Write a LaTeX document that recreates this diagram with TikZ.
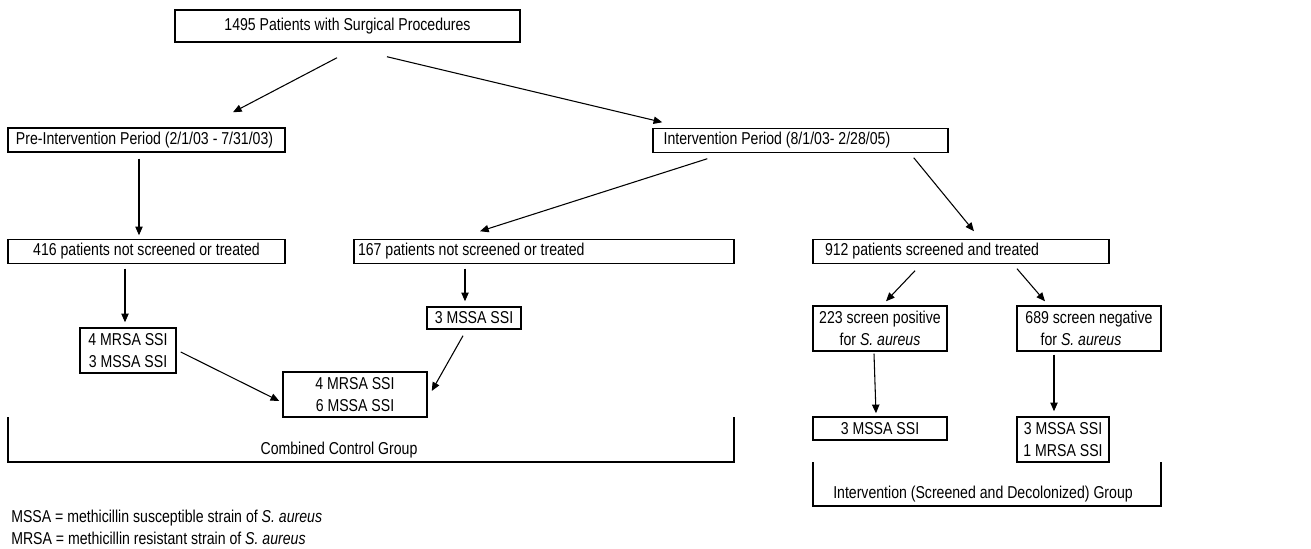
\documentclass[tikz,border=0pt]{standalone}
\usepackage{fontspec}
\setmainfont[FakeStretch=0.82]{Liberation Sans}
\usetikzlibrary{positioning, arrows.meta, calc}

\newcommand{\lefttext}[2]{\makebox[#1][l]{#2}}

\tikzset{
    box/.style={draw, line width=1.1pt, inner sep=0pt, minimum height=18pt, align=center},
    twobox/.style={box, minimum height=33.75pt},
    arr/.style={-{Triangle[length=6.5pt,width=5.5pt]}, line width=0.8pt},
    bracket/.style={line width=1.1pt}
}

\begin{document}
\begin{tikzpicture}[x=0.75pt, y=-0.75pt, font=\fontsize{12.9}{16.3}\selectfont]
    \useasboundingbox (0,0) rectangle (1311,549);

    % top level
    \node[box, minimum width=258.75pt, minimum height=24pt] (top) at (347.5,26) {1495 Patients with Surgical Procedures};

    % periods
    \node[box, minimum width=207.75pt] (pre) at (146.5,140) {\lefttext{195.75pt}{Pre-Intervention Period (2/1/03 - 7/31/03)}};
    \node[box, minimum width=221.25pt] (interv) at (800.5,140.5) {\lefttext{205.25pt}{Intervention Period (8/1/03- 2/28/05)}};

    % patients
    \node[box, minimum width=207.75pt] (n416) at (146.5,251.5) {416 patients not screened or treated};
    \node[box, minimum width=285pt] (n167) at (544,251.5) {\lefttext{279pt}{167 patients not screened or treated}};
    \node[box, minimum width=222pt] (n912) at (961,251.5) {\lefttext{204pt}{912 patients screened and treated}};

    % infections, control
    \node[box, minimum width=70.5pt, minimum height=16.5pt] (ssi167) at (474,318) {3 MSSA SSI};
    \node[twobox, minimum width=72pt] (ssi416) at (128,350.5) {4 MRSA SSI\\3 MSSA SSI};
    \node[twobox, minimum width=108pt] (control) at (355,394.5) {4 MRSA SSI\\6 MSSA SSI};

    % screening results
    \node[twobox, minimum width=100.5pt] (pos223) at (880,328.5) {223 screen positive\\for \textit{S. aureus}};
    \node[twobox, minimum width=108pt] (neg689) at (1089,328.5) {689 screen negative\\for \textit{S. aureus}\hspace*{12pt}};
    \node[box, minimum width=100.5pt, minimum height=17.25pt] (ssi223) at (880,428.5) {3 MSSA SSI};
    \node[twobox, minimum width=69pt] (ssi689) at (1063,439.5) {3 MSSA SSI\\1 MRSA SSI};

    % arrows
    \draw[arr] ($(top.south)+(-10.5,15)$) -- ($(pre.north)+(86.5,-15)$);
    \draw[arr] ($(top.south)+(39.5,14)$) -- ($(interv.north west)+(10,-5.5)$);
    \draw[arr] ($(pre.south)+(-7.5,6)$) -- ($(n416.north)+(-7.5,-3.5)$);
    \draw[arr] ($(interv.south west)+(55,5.5)$) -- ($(n167.north)+(-64,-7.5)$);
    \draw[arr] ($(interv.south east)+(-35,4.5)$) -- ($(n912.north)+(13,-7.5)$);
    \draw[arr] ($(n416.south)+(-21.5,4.5)$) -- ($(ssi416.north)+(-3,-5)$);
    \draw[arr] ($(n167.south)+(-79,4.5)$) -- ($(ssi167.north)+(-9,-5)$);
    \draw[arr] ($(ssi416.east)+(4,1.5)$) -- ($(control.west)+(-3,6.5)$);
    \draw[arr] ($(ssi167.south)+(-11,6)$) -- ($(control.east)+(4,-3.5)$);
    \draw[arr] ($(n912.south)+(-46,6.5)$) -- ($(pos223.north)+(6,-4)$);
    \draw[arr] ($(n912.south)+(56,4.5)$) -- ($(neg689.north)+(-44,-4)$);
    \draw[arr] ($(pos223.south)+(-6,2)$) -- ($(ssi223.north)+(-4,-3)$);
    \draw[arr] ($(neg689.south)+(-35,3)$) -- ($(ssi689.north)+(-9,-5)$);

    % group brackets
    \draw[bracket] (8,417) |- (734,462) -- (734,417);
    \node (ctrllabel) at (339,450) {Combined Control Group};
    \draw[bracket] (813,462) |- (1161,506) -- (1161,462);
    \node (intlabel) at (983,494) {Intervention (Screened and Decolonized) Group};

    % legend
    \node[anchor=west, align=left, inner sep=0pt] (legend) at (11,527.5)
        {MSSA = methicillin susceptible strain of \textit{S. aureus}\\
         MRSA = methicillin resistant strain of \textit{S. aureus}};
\end{tikzpicture}
\end{document}
